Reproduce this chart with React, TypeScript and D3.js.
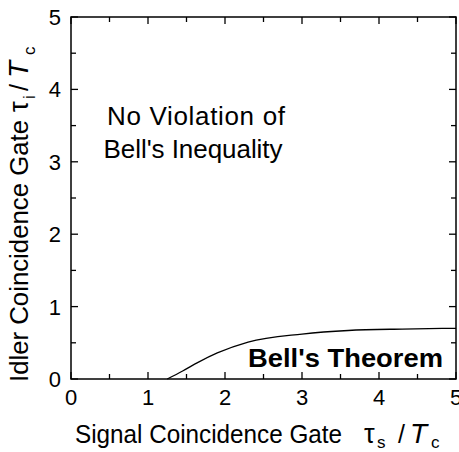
import * as d3 from 'd3';

// curve (signal gate -> idler gate)
const curveSignal = [1.25, 1.45, 1.65, 1.9, 2.3, 3.0, 3.6, 4.3, 5.0];
const curveIdler = [0, 0.11, 0.23, 0.36, 0.51, 0.62, 0.67, 0.69, 0.7];

const majorTicks = [0, 1, 2, 3, 4, 5];
const minorTicks = [0.5, 1.5, 2.5, 3.5, 4.5];
const tickLabels = ['0', '1', '2', '3', '4', '5'];

const W = 459;
const H = 452;
const margin = { top: 17, right: 3, bottom: 73, left: 71 };
const font = "'Liberation Sans', Arial, Helvetica, sans-serif";

export default function App() {
  const x = d3.scaleLinear().domain([0, 5]).range([margin.left, W - margin.right]);
  const y = d3.scaleLinear().domain([0, 5]).range([H - margin.bottom, margin.top]);

  const pts = curveSignal.map((s, i) => [s, curveIdler[i]] as [number, number]);
  const line = d3.line<[number, number]>()
    .x(d => x(d[0]))
    .y(d => y(d[1]))
    .curve(d3.curveMonotoneX);

  const x0 = x(0), x1 = x(5), y0 = y(0), y1 = y(5);
  const majLen = 7;
  const minLen = 5;

  const ticks = [
    ...majorTicks.map(v => ({ v, len: majLen })),
    ...minorTicks.map(v => ({ v, len: minLen })),
  ];

  return (
    <svg width={W} height={H} style={{ position: 'absolute', left: 0, top: 0, background: '#fff' }}
      fontFamily={font}>
      <rect x={x0} y={y1} width={x1 - x0} height={y0 - y1} fill="none" stroke="#000" strokeWidth={1.5} />

      {ticks.map((t, i) => (
        <g key={i} stroke="#000" strokeWidth={1.3}>
          <line x1={x(t.v)} x2={x(t.v)} y1={y0} y2={y0 - t.len} />
          <line x1={x(t.v)} x2={x(t.v)} y1={y1} y2={y1 + t.len} />
          <line x1={x0} x2={x0 + t.len} y1={y(t.v)} y2={y(t.v)} />
          <line x1={x1} x2={x1 - t.len} y1={y(t.v)} y2={y(t.v)} />
        </g>
      ))}

      {majorTicks.map((v, i) => (
        <text key={'x' + i} x={x(v)} y={y0 + 26} fontSize={22} textAnchor="middle">{tickLabels[i]}</text>
      ))}
      {majorTicks.map((v, i) => (
        <text key={'y' + i} x={x0 - 10} y={y(v) + 8} fontSize={22} textAnchor="end">{tickLabels[i]}</text>
      ))}

      <path d={line(pts) ?? ''} fill="none" stroke="#000" strokeWidth={1.3} />

      <text x={196} y={125} fontSize={26} textAnchor="middle" textLength={178}>No Violation of</text>
      <text x={193} y={158} fontSize={26} textAnchor="middle" textLength={179}>Bell's Inequality</text>
      <text x={443} y={367} fontSize={25} fontWeight="bold" textAnchor="end" textLength={195}
        lengthAdjust="spacingAndGlyphs">Bell's Theorem</text>

      {/* x axis title */}
      <g fontSize={25}>
        <text x={75} y={443} textLength={267} lengthAdjust="spacingAndGlyphs">Signal Coincidence Gate</text>
        <text x={364} y={443} fontSize={27}>τ</text>
        <text x={377} y={448} fontSize={17}>s</text>
        <text x={398} y={443}>/</text>
        <text x={410} y={443} fontSize={28} fontStyle="italic">T</text>
        <text x={431} y={448} fontSize={17}>c</text>
      </g>

      {/* y axis title */}
      <g fontSize={25} transform="rotate(-90)">
        <text x={-382} y={28} textLength={262} lengthAdjust="spacingAndGlyphs">Idler Coincidence Gate</text>
        <text x={-112} y={28} fontSize={27}>τ</text>
        <text x={-99} y={35} fontSize={17}>i</text>
        <text x={-91} y={28}>/</text>
        <text x={-78} y={28} fontSize={28} fontStyle="italic">T</text>
        <text x={-55} y={35} fontSize={17}>c</text>
      </g>
    </svg>
  );
}
